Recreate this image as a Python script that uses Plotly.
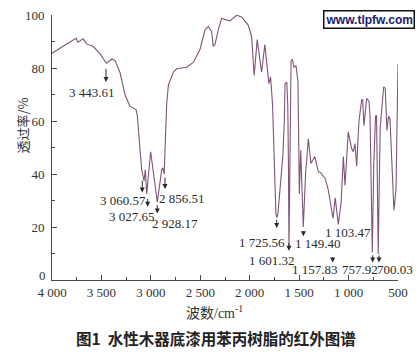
import plotly.graph_objects as go

# ---- data ----
wavenumber = [4000, 3939, 3848, 3767, 3757, 3737, 3686, 3646, 3585, 3514, 3450, 3393, 3363, 3312,
              3262, 3211, 3150, 3137, 3093, 3069, 3056, 3042, 3002, 2935, 2890, 2880, 2865, 2852,
              2840, 2823, 2773, 2739, 2638, 2571, 2503, 2452, 2419, 2385, 2369, 2352, 2318, 2284,
              2200, 2133, 2082, 2015, 1981, 1955, 1924, 1880, 1847, 1806, 1789, 1769, 1746, 1735,
              1725, 1715, 1694, 1665, 1650, 1643, 1625, 1615, 1608, 1603, 1596, 1590, 1582, 1569,
              1552, 1532, 1512, 1505, 1498, 1484, 1458, 1435, 1407, 1381, 1341, 1307, 1280, 1257,
              1240, 1207, 1172, 1157, 1135, 1104, 1075, 1062, 1053, 1036, 1003, 969, 952, 935,
              918, 895, 867, 857, 844, 817, 793, 783, 773, 760, 745, 727, 717, 708, 700, 690,
              680, 645, 629, 612, 596, 581, 564, 548, 541, 520, 513, 500]
transmittance = [85.6, 87.0, 89.2, 90.8, 91.2, 89.7, 91.0, 89.0, 88.2, 85.3, 81.8, 83.4, 82.8, 78.3,
                 70.0, 65.5, 64.3, 62.0, 41.7, 37.4, 41.7, 32.5, 48.4, 29.4, 41.7, 42.3, 40.0, 54.0,
                 66.2, 73.5, 78.4, 79.7, 80.3, 82.1, 87.0, 94.4, 95.6, 93.8, 88.2, 88.8, 94.4, 98.7,
                 97.8, 99.9, 99.3, 96.2, 91.9, 77.2, 90.7, 78.4, 88.8, 74.1, 76.6, 66.2, 36.8, 25.0,
                 23.5, 25.0, 34.0, 46.7, 60.0, 74.1, 74.7, 66.0, 43.0, 12.0, 34.0, 58.8, 82.7, 83.3,
                 80.3, 80.9, 74.8, 54.0, 32.5, 49.0, 20.0, 40.0, 53.3, 44.0, 46.6, 41.0, 40.4, 39.2,
                 38.6, 34.3, 26.5, 23.2, 31.0, 21.0, 29.4, 37.0, 46.6, 35.7, 55.9, 49.6, 48.4, 51.5,
                 42.9, 60.0, 68.0, 68.0, 58.2, 68.6, 67.4, 62.0, 40.0, 10.4, 44.0, 61.9, 62.0, 35.0, 9.8, 35.0,
                 57.6, 72.9, 72.3, 56.4, 61.9, 60.7, 44.0, 29.4, 26.3, 34.3, 60.0, 81.5]

x_tick_vals = [4000, 3500, 3000, 2500, 2000, 1500, 1000, 500]
x_tick_text = ["4 000", "3 500", "3 000", "2 500", "2 000", "1 500", "1 000", "500"]
y_tick_vals = [20, 40, 60, 80, 100]
y_zero_label = "0"

# peak labels: text, label position (wn, T)
peak_labels = ["3 443.61", "3 060.57", "3 027.65", "2 856.51", "2 928.17", "1 725.56",
               "1 601.32", "1 149.40", "1 157.83", "1 103.47", "757.92", "700.03"]
label_wn = [3598, 3285, 3194, 2688, 2756, 1879, 1778, 1306, 1340, 1003, 889, 526]
label_t = [70.6, 30.0, 23.9, 30.6, 21.4, 14.0, 7.4, 13.6, 4.0, 18.0, 3.9, 3.9]
# arrows: wavenumber, start T, tip T
arrow_wn = [3454, 3087, 3032, 2935, 2857, 1727, 1603, 1457, 1161, 756, 692]
arrow_from = [80.3, 38.0, 31.2, 28.8, 39.2, 23.3, 14.5, 19.1, 9.2, 9.9, 9.9]
arrow_to = [74.7, 33.0, 27.6, 25.1, 34.3, 19.6, 11.0, 16.5, 6.6, 6.6, 6.6]

line_color = "#7f5577"
axis_color = "#4a4a4a"
serif = "Liberation Serif"

fig = go.Figure()
fig.add_trace(go.Scatter(x=wavenumber, y=transmittance, mode="lines",
                         line=dict(color=line_color, width=1.1), showlegend=False,
                         hoverinfo="skip"))

annotations = []
for txt, xw, yt in zip(peak_labels, label_wn, label_t):
    annotations.append(dict(x=xw, y=yt, xref="x", yref="y", text=txt, showarrow=False,
                            font=dict(family=serif, size=13, color="#2a2a2a"),
                            xanchor="center", yanchor="middle"))
for xw, y0, y1 in zip(arrow_wn, arrow_from, arrow_to):
    annotations.append(dict(x=xw, y=y1, ax=xw, ay=y0, xref="x", yref="y", axref="x", ayref="y",
                            text="", showarrow=True, arrowhead=2, arrowsize=1.0,
                            arrowwidth=1, arrowcolor="#2a2a2a", standoff=0, startstandoff=0))

# y "0" label sits slightly above the axis line as in the reference
annotations.append(dict(x=-0.012, y=1.8, xref="paper", yref="y", text=y_zero_label,
                        showarrow=False, font=dict(family=serif, size=13, color="#333"),
                        xanchor="right", yanchor="middle"))
# axis titles and caption
annotations.append(dict(x=-0.088, y=0.581, xref="paper", yref="paper", text="透过率/%",
                        textangle=-90, showarrow=False,
                        font=dict(family="Noto Sans CJK SC", size=13, color="#333"),
                        xanchor="center", yanchor="middle"))
annotations.append(dict(x=0.471, y=-0.121, xref="paper", yref="paper",
                        text="<span style='font-family:Noto Sans CJK SC'>波数</span>/cm<sup>-1</sup>",
                        showarrow=False, font=dict(family=serif, size=14, color="#333"),
                        xanchor="center", yanchor="middle"))
annotations.append(dict(x=0.474, y=-0.22, xref="paper", yref="paper",
                        text="<b>图1  水性木器底漆用苯丙树脂的红外图谱</b>",
                        showarrow=False, font=dict(family="Noto Sans CJK SC", size=15.5, color="#222"),
                        xanchor="center", yanchor="middle"))
annotations.append(dict(x=0.917, y=0.984, xref="paper", yref="paper",
                        text="<b>www.tlpfw.com</b>", showarrow=False,
                        font=dict(family="Liberation Sans", size=12, color="#1a1a70"),
                        bordercolor="#111", borderwidth=1.5, borderpad=1, bgcolor="white",
                        xanchor="center", yanchor="middle"))

fig.update_layout(
    width=419, height=354,
    margin=dict(l=52, r=21, t=8, b=74),
    paper_bgcolor="white", plot_bgcolor="white",
    annotations=annotations,
    xaxis=dict(range=[4000, 500], tickmode="array", tickvals=x_tick_vals, ticktext=x_tick_text,
               ticks="inside", ticklen=5, tickwidth=1, tickcolor=axis_color,
               showline=True, linecolor=axis_color, linewidth=1, showgrid=False, zeroline=False,
               minor=dict(tick0=0, dtick=250, ticks="inside", ticklen=3, tickcolor=axis_color),
               tickfont=dict(family=serif, size=13, color="#333")),
    yaxis=dict(range=[0, 100], tickmode="array", tickvals=y_tick_vals,
               ticks="inside", ticklen=5, tickwidth=1, tickcolor=axis_color,
               showline=True, linecolor=axis_color, linewidth=1, showgrid=False, zeroline=False,
               minor=dict(tick0=0, dtick=10, ticks="inside", ticklen=3, tickcolor=axis_color),
               ticklabelstandoff=4,
               tickfont=dict(family=serif, size=13, color="#333")),
)

fig.write_html("out.html")
